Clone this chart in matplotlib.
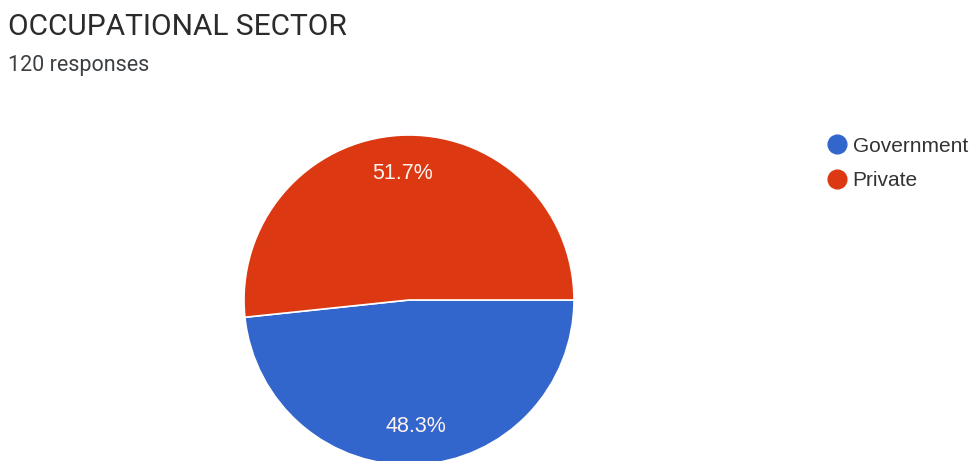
import matplotlib.pyplot as plt
from matplotlib.lines import Line2D

plt.rcParams['font.family'] = ['Roboto', 'DejaVu Sans']

sectors = ['Government', 'Private']
counts = [58, 62]
colors = ['#3366cc', '#dc3912']
total = sum(counts)

W, H = 973, 461
fig = plt.figure(figsize=(W / 100, H / 100), dpi=100)
fig.patch.set_facecolor('white')

# pie centred at (409, 300) px, radius 165 px
cx, cy, r = 409, 300, 165
ax = fig.add_axes([(cx - r) / W, (H - cy - r) / H, 2 * r / W, 2 * r / H])
wedges, texts, autotexts = ax.pie(
    counts, colors=colors, startangle=0, counterclock=False,
    autopct='%1.1f%%', pctdistance=0.77,
    wedgeprops=dict(edgecolor='white', linewidth=1.2),
    textprops=dict(color='#fdf3f0', fontsize=15.5, family='Liberation Sans'),
)
for w in wedges:
    w.set_clip_on(False)
ax.set_xlim(-1, 1)
ax.set_ylim(-1, 1)
ax.set_aspect('equal')
ax.axis('off')

fig.text(8 / W, 1 - 35 / H, 'OCCUPATIONAL SECTOR', fontsize=21.5, color='#2b2b2b',
         va='baseline', ha='left')
fig.text(8 / W, 1 - 71 / H, f'{total} responses', fontsize=15.5, color='#3c4043',
         va='baseline', ha='left')

handles = [Line2D([], [], marker='o', linestyle='', markersize=13.5,
                  markerfacecolor=c, markeredgecolor=c) for c in colors]
fig.legend(handles, sectors, loc='upper left',
           bbox_to_anchor=(812 / W, 1 - 122 / H), frameon=False,
           prop=dict(family='Liberation Sans', size=15), handletextpad=0.25,
           labelspacing=0.75, handlelength=1.0, labelcolor='#333333',
           borderpad=0.2)

fig.savefig('out.png', dpi=100)
